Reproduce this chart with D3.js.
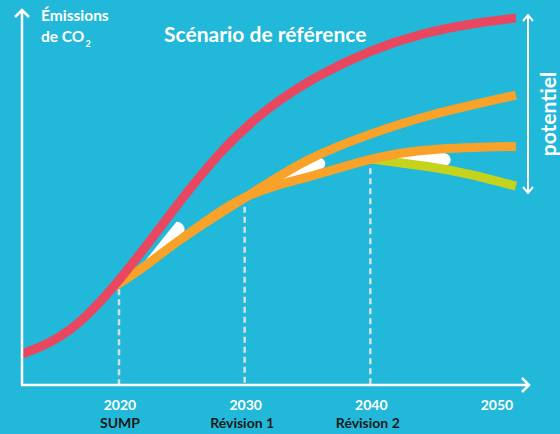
<!DOCTYPE html>
<html>
<head>
<meta charset="utf-8">
<script src="https://cdn.jsdelivr.net/npm/d3@7"></script>
<style>
  body { margin: 0; background: #22b8d9; }
  svg { display: block; }
</style>
</head>
<body>
<script>

// emission index (0-100), by year
var redYears = [2012.2, 2016, 2020, 2024, 2028, 2032, 2036, 2040, 2044, 2048, 2051.5];
var redValues = [8.1, 14.6, 28.4, 45.9, 62.5, 74.9, 83.6, 90.0, 94.5, 97.3, 98.9];

var orangeYears = [2019.5, 2022, 2025, 2030, 2035, 2040, 2045, 2051.5];
var orangeValues = [26.2, 31.9, 39.5, 50.5, 60.6, 67.6, 72.9, 78.1];

var lowerYears = [2025, 2030, 2035, 2040, 2045, 2051.5];
var lowerValues = [39.5, 50.5, 56.0, 60.8, 63.4, 64.2];

var greenYears = [2040, 2042, 2045, 2048, 2051.5];
var greenValues = [60.8, 59.9, 58.5, 56.5, 53.5];

var tickYears = [2020, 2030, 2040, 2050];
var tickNames = ["SUMP", "Révision 1", "Révision 2", ""];
var revisionYears = [2020, 2030, 2040];

var width = 560, height = 434;

var svg = d3.select("body").append("svg")
  .attr("width", width)
  .attr("height", height)
  .attr("font-family", "Lato, 'Open Sans', sans-serif")
  .attr("font-weight", "bold");

var x = d3.scaleLinear().domain([2020, 2050]).range([120, 497]);
var y = d3.scaleLinear().domain([0, 100]).range([384, 14]);

var line = d3.line()
  .x(d => x(d[0]))
  .y(d => y(d[1]))
  .curve(d3.curveNatural);

function pairs(years, values) {
  return years.map((yr, i) => [yr, values[i]]);
}

var wedgeLayer = svg.append("g");
var dashLayer = svg.append("g");
var lineLayer = svg.append("g");

var series = [
  { key: "green", data: pairs(greenYears, greenValues), color: "#c6d31d" },
  { key: "lower", data: pairs(lowerYears, lowerValues), color: "#f8a229" },
  { key: "orange", data: pairs(orangeYears, orangeValues), color: "#f8a229" },
  { key: "red", data: pairs(redYears, redValues), color: "#e8475f" }
];

var nodes = {};
series.forEach(function(s) {
  nodes[s.key] = lineLayer.append("path")
    .attr("d", line(s.data))
    .attr("fill", "none")
    .attr("stroke", s.color)
    .attr("stroke-width", 9)
    .node();
});

// y on a drawn path at a given x
function yAt(node, px) {
  var lo = 0, hi = node.getTotalLength();
  for (var i = 0; i < 30; i++) {
    var mid = (lo + hi) / 2;
    if (node.getPointAtLength(mid).x < px) lo = mid; else hi = mid;
  }
  return node.getPointAtLength((lo + hi) / 2).y;
}

// white wedges where the scenarios branch off
var wedges = [
  { curve: "orange", side: -1, tip: 2021.9, end: 2024.5, h: 16 },
  { curve: "lower", side: -1, tip: 2032.2, end: 2035.9, h: 11 },
  { curve: "lower", side: 1, tip: 2040.8, end: 2045.8, h: 13 }
];

wedges.forEach(function(w) {
  var node = nodes[w.curve];
  var x0 = x(w.tip), x1 = x(w.end), n = 16;
  var base = [], edge = [];
  for (var i = 0; i <= n; i++) {
    var px = x0 + (x1 - x0) * i / n;
    var py = yAt(node, px);
    base.push([px, py]);
    edge.push([px, py + w.side * (4.5 + w.h * i / n)]);
  }
  var last = base[n];
  var p = "M" + base.map(d => d.join(",")).join("L");
  p += "L" + last[0] + "," + (last[1] + w.side * 4.5);
  p += "A" + (w.h / 2) + "," + (w.h / 2) + " 0 0 " + (w.side < 0 ? 0 : 1) + " " + edge[n].join(",");
  p += "L" + edge.slice().reverse().map(d => d.join(",")).join("L") + "Z";
  wedgeLayer.append("path").attr("d", p).attr("fill", "white");
});

// dashed markers for the revision years
var branchCurve = { 2020: "red", 2030: "orange", 2040: "lower" };
dashLayer.selectAll("line")
  .data(revisionYears)
  .enter()
  .append("line")
  .attr("x1", d => x(d) - 1)
  .attr("x2", d => x(d) - 1)
  .attr("y1", d => yAt(nodes[branchCurve[d]], x(d) - 1) + 9)
  .attr("y2", y(0))
  .attr("stroke", "#d6dfe3")
  .attr("stroke-width", 2.5)
  .attr("stroke-dasharray", "6,4");

// axes with arrows
var axis = svg.append("g").attr("stroke", "white").attr("stroke-width", 2.5).attr("fill", "none");
axis.append("path").attr("d", `M22,${y(0) + 1}V10M15,17L22,10L29,17`);
axis.append("path").attr("d", `M21,${y(0) + 1}H529M522,${y(0) - 6}L529,${y(0) + 1}L522,${y(0) + 8}`);

// potential arrow on the right
var arrowX = 528, arrowTop = 15, arrowBot = 193;
axis.append("path").attr("stroke-width", 2)
  .attr("d", `M${arrowX},${arrowTop}V${arrowBot}` +
    `M${arrowX - 5},${arrowTop + 6}L${arrowX},${arrowTop}L${arrowX + 5},${arrowTop + 6}` +
    `M${arrowX - 5},${arrowBot - 6}L${arrowX},${arrowBot}L${arrowX + 5},${arrowBot - 6}`);

svg.append("text")
  .attr("transform", "translate(556,114) rotate(-90)")
  .attr("text-anchor", "middle")
  .attr("font-size", 21)
  .attr("fill", "white")
  .text("potentiel");

// titles
svg.append("text")
  .attr("x", 41).attr("y", 21)
  .attr("font-size", 15.5)
  .attr("fill", "white")
  .text("Émissions");

var co2 = svg.append("text")
  .attr("x", 41).attr("y", 42)
  .attr("font-size", 15.5)
  .attr("fill", "white");
co2.append("tspan").text("de CO");
co2.append("tspan").attr("font-size", 9).attr("dy", 5).attr("dx", 1).text("2");

svg.append("text")
  .attr("x", 164).attr("y", 42)
  .attr("font-size", 21)
  .attr("fill", "white")
  .text("Scénario de référence");

// tick labels
svg.selectAll(".year")
  .data(tickYears)
  .enter()
  .append("text")
  .attr("class", "year")
  .attr("x", d => x(d))
  .attr("y", 410)
  .attr("text-anchor", "middle")
  .attr("font-size", 14)
  .attr("fill", "white")
  .text(d => d);

svg.selectAll(".name")
  .data(tickYears)
  .enter()
  .append("text")
  .attr("class", "name")
  .attr("x", (d, i) => x(d) - (i ? 3.5 : 0))
  .attr("y", 428)
  .attr("text-anchor", "middle")
  .attr("font-size", 14)
  .attr("fill", "#1a1a1a")
  .text((d, i) => tickNames[i]);

</script>
</body>
</html>
